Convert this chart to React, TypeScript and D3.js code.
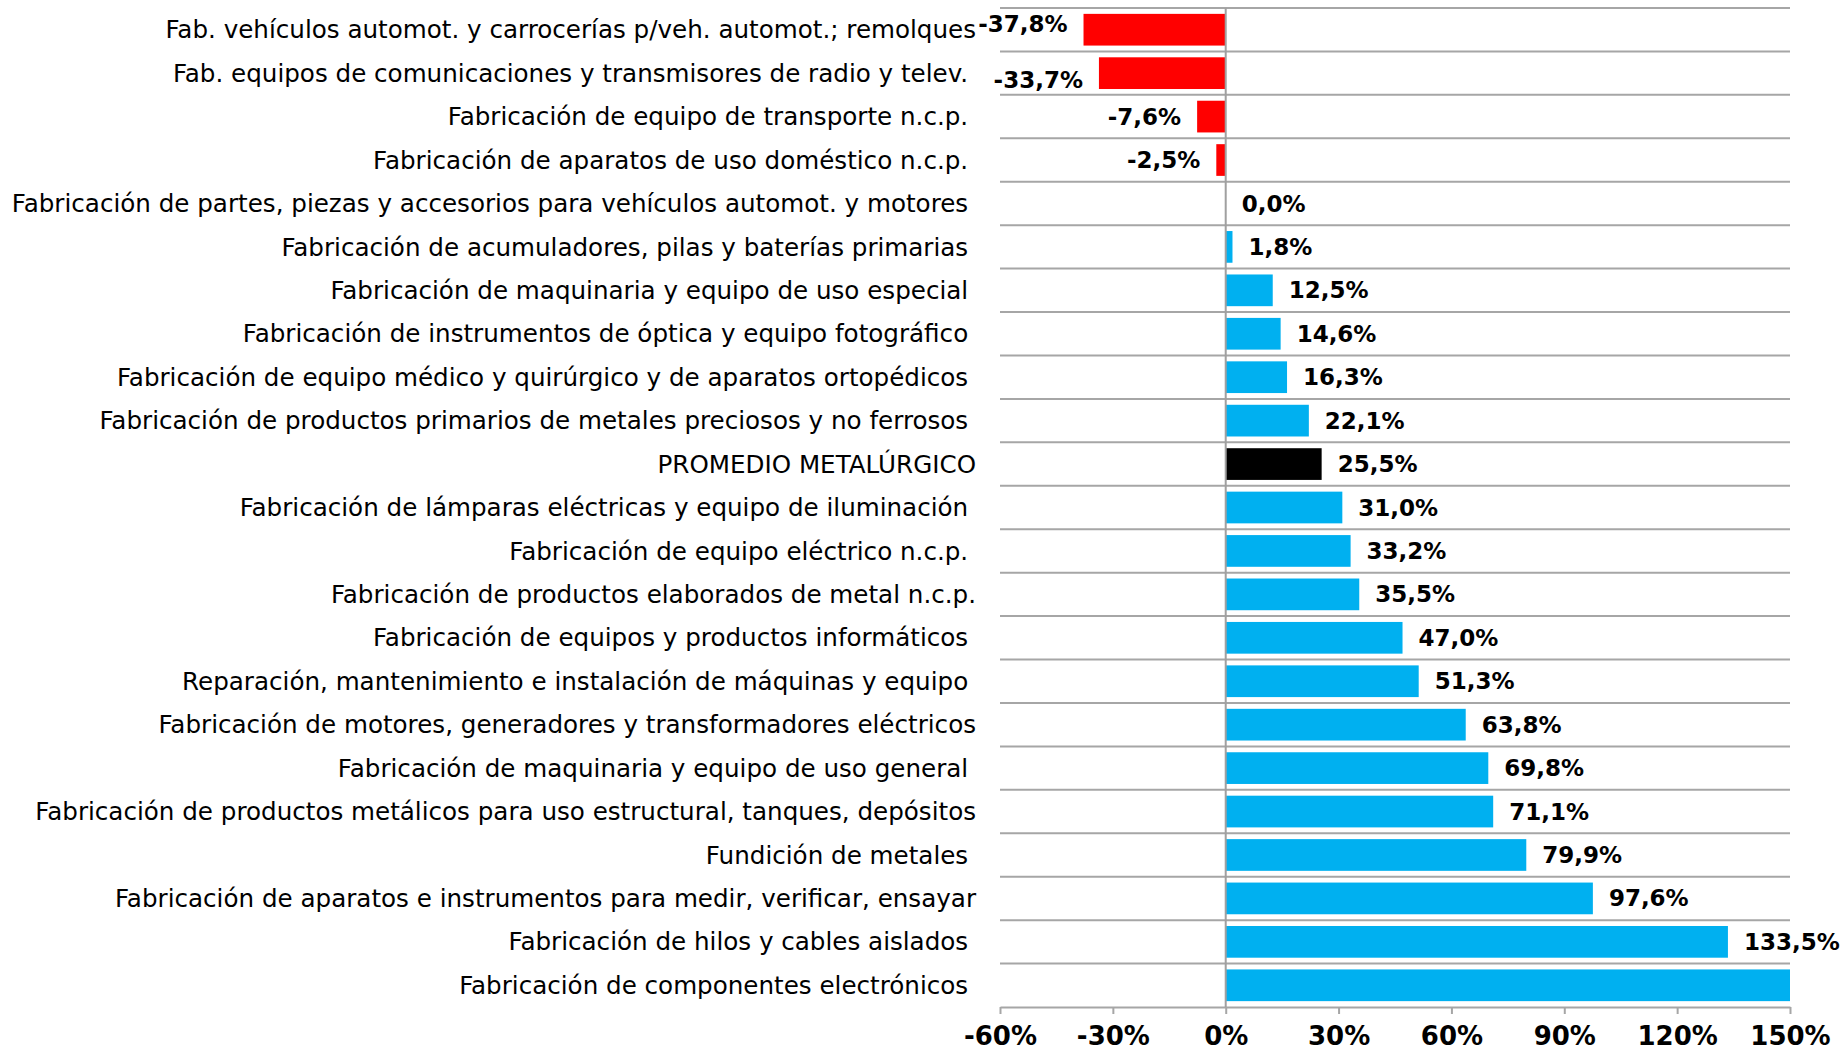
import React, { useEffect, useRef } from "react";
import * as d3 from "d3";

// Variación por rama (%) - categorías de arriba hacia abajo
const categories = [
  "Fab. vehículos automot. y carrocerías p/veh. automot.; remolques",
  "Fab. equipos de comunicaciones y transmisores de radio y telev. ",
  "Fabricación de equipo de transporte n.c.p. ",
  "Fabricación de aparatos de uso doméstico n.c.p. ",
  "Fabricación de partes, piezas y accesorios para vehículos automot. y motores ",
  "Fabricación de acumuladores, pilas y baterías primarias ",
  "Fabricación de maquinaria y equipo de uso especial ",
  "Fabricación de instrumentos de óptica y equipo fotográfico ",
  "Fabricación de equipo médico y quirúrgico y de aparatos ortopédicos ",
  "Fabricación de productos primarios de metales preciosos y no ferrosos ",
  "PROMEDIO METALÚRGICO",
  "Fabricación de lámparas eléctricas y equipo de iluminación ",
  "Fabricación de equipo eléctrico n.c.p. ",
  "Fabricación de productos elaborados de metal n.c.p.",
  "Fabricación de equipos y productos informáticos ",
  "Reparación, mantenimiento e instalación de máquinas y equipo ",
  "Fabricación de motores, generadores y transformadores eléctricos",
  "Fabricación de maquinaria y equipo de uso general ",
  "Fabricación de productos metálicos para uso estructural, tanques, depósitos",
  "Fundición de metales ",
  "Fabricación de aparatos e instrumentos para medir, verificar, ensayar",
  "Fabricación de hilos y cables aislados ",
  "Fabricación de componentes electrónicos ",
];

const values = [
  -37.8, -33.7, -7.6, -2.5, 0.0, 1.8, 12.5, 14.6, 16.3, 22.1, 25.5, 31.0, 33.2,
  35.5, 47.0, 51.3, 63.8, 69.8, 71.1, 79.9, 97.6, 133.5, 168.0,
];

const averageLabel = "PROMEDIO METALÚRGICO";
const xTicks = [-60, -30, 0, 30, 60, 90, 120, 150];

const locale = d3.formatLocale({
  decimal: ",",
  thousands: ".",
  grouping: [3],
  currency: ["", ""],
  minus: "-",
});
const fmt1 = locale.format(".1f");

const FONT = "DejaVu Sans, Verdana, sans-serif";

export default function App() {
  const ref = useRef<SVGSVGElement>(null);

  useEffect(() => {
    document.body.style.margin = "0";
    const svg = d3.select(ref.current);
    svg.selectAll("*").remove();

    const data = categories.map((c, i) => ({ cat: c, value: values[i], i }));

    const left = 1000,
      right = 1790,
      top = 8,
      bottom = 1007;

    const x = d3.scaleLinear().domain([-60, 150]).range([left, right]);
    const y = d3
      .scaleBand()
      .domain(categories)
      .range([top, bottom])
      .paddingInner(0.27)
      .paddingOuter(0.135);
    const step = y.step();

    // horizontal lines between categories
    svg
      .append("g")
      .selectAll("line")
      .data(d3.range(categories.length))
      .join("line")
      .attr("x1", left)
      .attr("x2", right)
      .attr("y1", (i) => top + i * step)
      .attr("y2", (i) => top + i * step)
      .attr("stroke", "#a6a6a6")
      .attr("stroke-width", 2);

    // bars
    svg
      .append("g")
      .selectAll("rect")
      .data(data)
      .join("rect")
      .attr("x", (d) => x(Math.min(0, d.value)))
      .attr("y", (d) => y(d.cat)!)
      .attr("width", (d) => Math.abs(x(Math.min(d.value, 150)) - x(0)))
      .attr("height", y.bandwidth())
      .attr("fill", (d) =>
        d.cat === averageLabel ? "#000000" : d.value < 0 ? "#ff0000" : "#00b0f0"
      );

    // x axis
    const axis = svg
      .append("g")
      .attr("transform", `translate(0, ${bottom})`)
      .call(
        d3
          .axisBottom(x)
          .tickValues(xTicks)
          .tickSize(7)
          .tickSizeOuter(0)
          .tickFormat((d) => `${d}%`)
      );
    axis.select(".domain").attr("stroke", "#a6a6a6").attr("stroke-width", 2);
    axis.selectAll(".tick line").attr("stroke", "#a6a6a6").attr("stroke-width", 2);
    axis
      .selectAll(".tick text")
      .attr("y", 29)
      .attr("dy", "0.35em")
      .attr("fill", "#000")
      .style("font-family", FONT)
      .style("font-size", "26px")
      .style("font-weight", "bold");

    // zero line
    svg
      .append("line")
      .attr("x1", x(0))
      .attr("x2", x(0))
      .attr("y1", top)
      .attr("y2", bottom)
      .attr("stroke", "#a0a0a0")
      .attr("stroke-width", 2);

    // category labels
    svg
      .append("g")
      .selectAll("text")
      .data(data)
      .join("text")
      .attr("x", 976)
      .attr("y", (d) => y(d.cat)! + y.bandwidth() / 2)
      .attr("dy", "0.35em")
      .attr("text-anchor", "end")
      .attr("xml:space", "preserve")
      .style("white-space", "pre")
      .style("font-family", FONT)
      .style("font-size", "24.6px")
      .attr("fill", "#000")
      .text((d) => d.cat);

    // the two top labels collide, so they are pushed apart a little
    const nudge = (i: number) => (i === 0 ? -6 : i === 1 ? 7 : 0);

    // value labels (hidden when outside the axis range)
    svg
      .append("g")
      .selectAll("text")
      .data(data.filter((d) => d.value <= 150))
      .join("text")
      .attr("x", (d) => (d.value < 0 ? x(d.value) - 16 : x(d.value) + 16))
      .attr("y", (d) => y(d.cat)! + y.bandwidth() / 2 + nudge(d.i))
      .attr("dy", "0.35em")
      .attr("text-anchor", (d) => (d.value < 0 ? "end" : "start"))
      .style("font-family", FONT)
      .style("font-size", "23px")
      .style("font-weight", "bold")
      .attr("fill", "#000")
      .text((d) => `${fmt1(d.value)}%`);
  }, []);

  return <svg ref={ref} width={1841} height={1048} style={{ display: "block" }} />;
}
